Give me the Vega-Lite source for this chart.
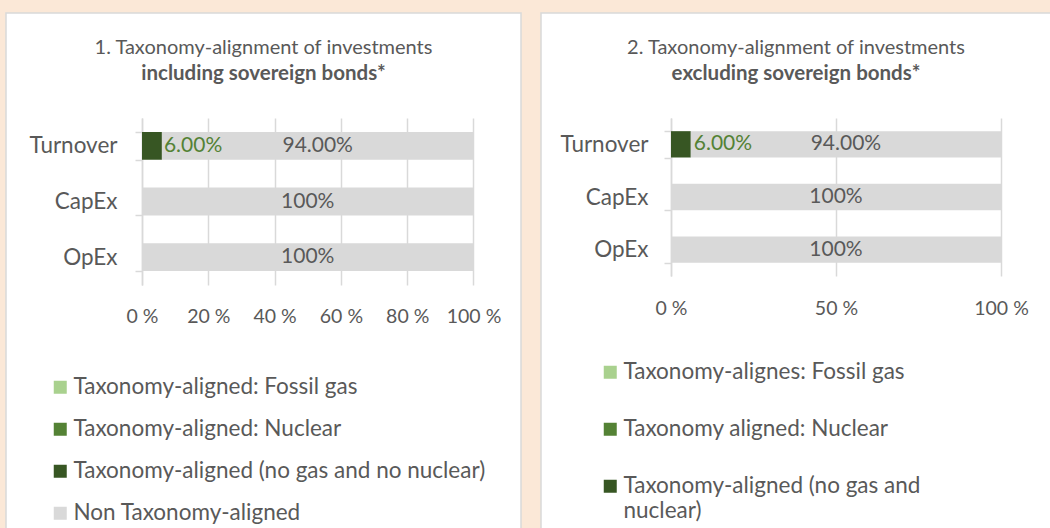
{
  "$schema": "https://vega.github.io/schema/vega-lite/v6.json",
  "background": "#FBE8D7",
  "padding": {"left": 5, "top": 1, "right": 0, "bottom": 0},
  "spacing": 20,
  "bounds": "flush",
  "resolve": {"scale": {"color": "independent"}, "legend": {"color": "independent"}},
  "datasets": {
    "incl": [
      {"category": "Turnover", "series": "Taxonomy-aligned (no gas and no nuclear)", "value": 6, "label": "6.00%"},
      {"category": "Turnover", "series": "Non Taxonomy-aligned", "value": 94, "label": "94.00%"},
      {"category": "CapEx", "series": "Non Taxonomy-aligned", "value": 100, "label": "100%"},
      {"category": "OpEx", "series": "Non Taxonomy-aligned", "value": 100, "label": "100%"}
    ],
    "excl": [
      {"category": "Turnover", "series": "Taxonomy-aligned (no gas and nuclear)", "value": 6, "label": "6.00%"},
      {"category": "Turnover", "series": "Non Taxonomy-aligned", "value": 94, "label": "94.00%"},
      {"category": "CapEx", "series": "Non Taxonomy-aligned", "value": 100, "label": "100%"},
      {"category": "OpEx", "series": "Non Taxonomy-aligned", "value": 100, "label": "100%"}
    ]
  },
  "hconcat": [
    {
      "width": 515,
      "height": 516,
      "data": {"name": "incl"},
      "title": {
        "text": "1. Taxonomy-alignment of investments",
        "subtitle": "including sovereign bonds*",
        "frame": "group",
        "anchor": "middle",
        "offset": -82,
        "fontSize": 20,
        "fontWeight": "normal",
        "color": "#595959",
        "subtitleFontSize": 20.5,
        "subtitleFontWeight": "bold",
        "subtitleColor": "#595959",
        "subtitlePadding": 6
      },
      "encoding": {
        "y": {
          "field": "category", "type": "nominal", "sort": ["Turnover", "CapEx", "OpEx"],
          "scale": {"range": [105, 272], "paddingInner": 0.5, "paddingOuter": 0.25},
          "axis": {"title": null, "orient": "left", "offset": -136, "domainColor": "#D9D9D9", "domainWidth": 1.5, "ticks": true, "tickBand": "extent", "tickColor": "#D9D9D9", "tickWidth": 1.5, "tickSize": 7, "labelPadding": 18, "labelFontSize": 22.5, "labelColor": "#595959", "grid": false}
        },
        "x": {
          "field": "value", "type": "quantitative",
          "scale": {"domain": [-41.03, 114.33], "nice": false, "zero": false},
          "axis": {"title": null, "orient": "top", "values": [0, 20, 40, 60, 80, 100], "labelExpr": "datum.value + ' %'", "domain": false, "ticks": false, "grid": true, "gridColor": "#D9D9D9", "gridWidth": 1.5, "offset": -105, "labelPadding": -198, "labelBaseline": "middle", "labelFontSize": 19.5, "labelColor": "#595959", "labelFlush": false}
        }
      },
      "layer": [
        {
          "mark": {"type": "bar"},
          "encoding": {
            "x": {"field": "value", "type": "quantitative", "stack": "zero"},
            "color": {
              "field": "series", "type": "nominal",
              "scale": {"domain": ["Taxonomy-aligned: Fossil gas", "Taxonomy-aligned: Nuclear", "Taxonomy-aligned (no gas and no nuclear)", "Non Taxonomy-aligned"], "range": ["#A9D18E", "#548235", "#375623", "#D9D9D9"]},
              "legend": {"orient": "none", "legendX": 43, "legendY": 363, "title": null, "symbolType": "square", "symbolSize": 169, "symbolStrokeWidth": 0, "labelFontSize": 22.5, "labelColor": "#595959", "labelOffset": 2, "rowPadding": 19, "labelLimit": 600, "padding": 0, "direction": "vertical"}
            },
            "order": {"field": "series", "sort": "descending"}
          }
        },
        {
          "mark": {"type": "text", "fontSize": 21, "color": "#595959"},
          "encoding": {
            "x": {"field": "value", "type": "quantitative", "stack": "zero", "bandPosition": 0.5},
            "detail": {"field": "series"},
            "order": {"field": "series", "sort": "descending"},
            "text": {"field": "label"},
            "opacity": {"condition": {"test": "datum.series === 'Non Taxonomy-aligned'", "value": 1}, "value": 0}
          }
        },
        {
          "transform": [{"filter": "datum.series === 'Taxonomy-aligned (no gas and no nuclear)'"}],
          "mark": {"type": "text", "fontSize": 21, "color": "#548235", "align": "left", "dx": 2},
          "encoding": {
            "x": {"field": "value", "type": "quantitative"},
            "text": {"field": "label"}
          }
        }
      ]
    },
    {
      "width": 510,
      "height": 516,
      "data": {"name": "excl"},
      "title": {
        "text": "2. Taxonomy-alignment of investments",
        "subtitle": "excluding sovereign bonds*",
        "frame": "group",
        "anchor": "middle",
        "offset": -82,
        "fontSize": 20,
        "fontWeight": "normal",
        "color": "#595959",
        "subtitleFontSize": 20.5,
        "subtitleFontWeight": "bold",
        "subtitleColor": "#595959",
        "subtitlePadding": 6
      },
      "encoding": {
        "y": {
          "field": "category", "type": "nominal", "sort": ["Turnover", "CapEx", "OpEx"],
          "scale": {"range": [105, 263], "paddingInner": 0.5, "paddingOuter": 0.25},
          "axis": {"title": null, "orient": "left", "offset": -130, "domainColor": "#D9D9D9", "domainWidth": 1.5, "ticks": true, "tickBand": "extent", "tickColor": "#D9D9D9", "tickWidth": 1.5, "tickSize": 7, "labelPadding": 16, "labelFontSize": 22.5, "labelColor": "#595959", "grid": false}
        },
        "x": {
          "field": "value", "type": "quantitative",
          "scale": {"domain": [-39.39, 115.15], "nice": false, "zero": false},
          "axis": {"title": null, "orient": "top", "values": [0, 50, 100], "labelExpr": "datum.value + ' %'", "domain": false, "ticks": false, "grid": true, "gridColor": "#D9D9D9", "gridWidth": 1.5, "offset": -105, "labelPadding": -190, "labelBaseline": "middle", "labelFontSize": 19.5, "labelColor": "#595959", "labelFlush": false}
        }
      },
      "layer": [
        {
          "mark": {"type": "bar"},
          "encoding": {
            "x": {"field": "value", "type": "quantitative", "stack": "zero"},
            "color": {
              "field": "series", "type": "nominal",
              "scale": {"domain": ["Taxonomy-alignes: Fossil gas", "Taxonomy aligned: Nuclear", "Taxonomy-aligned (no gas and nuclear)", "Non Taxonomy-aligned"], "range": ["#A9D18E", "#548235", "#375623", "#D9D9D9"]},
              "legend": {"orient": "none", "legendX": 58, "legendY": 348, "title": null, "values": ["Taxonomy-alignes: Fossil gas", "Taxonomy aligned: Nuclear", "Taxonomy-aligned (no gas and nuclear)"], "labelExpr": "datum.label === 'Taxonomy-aligned (no gas and nuclear)' ? ['Taxonomy-aligned (no gas and', 'nuclear)'] : datum.label", "symbolType": "square", "symbolSize": 169, "symbolStrokeWidth": 0, "labelFontSize": 22.5, "labelColor": "#595959", "labelOffset": 2, "rowPadding": 34, "labelLimit": 600, "padding": 0, "direction": "vertical"}
            },
            "order": {"field": "series", "sort": "descending"}
          }
        },
        {
          "mark": {"type": "text", "fontSize": 21, "color": "#595959"},
          "encoding": {
            "x": {"field": "value", "type": "quantitative", "stack": "zero", "bandPosition": 0.5},
            "detail": {"field": "series"},
            "order": {"field": "series", "sort": "descending"},
            "text": {"field": "label"},
            "opacity": {"condition": {"test": "datum.series === 'Non Taxonomy-aligned'", "value": 1}, "value": 0}
          }
        },
        {
          "transform": [{"filter": "datum.series === 'Taxonomy-aligned (no gas and nuclear)'"}],
          "mark": {"type": "text", "fontSize": 21, "color": "#548235", "align": "left", "dx": 3},
          "encoding": {
            "x": {"field": "value", "type": "quantitative"},
            "text": {"field": "label"}
          }
        }
      ]
    }
  ],
  "config": {
    "font": "Lato",
    "view": {"stroke": "#D9D9D9", "strokeWidth": 1.5, "fill": "white"}
  }
}
